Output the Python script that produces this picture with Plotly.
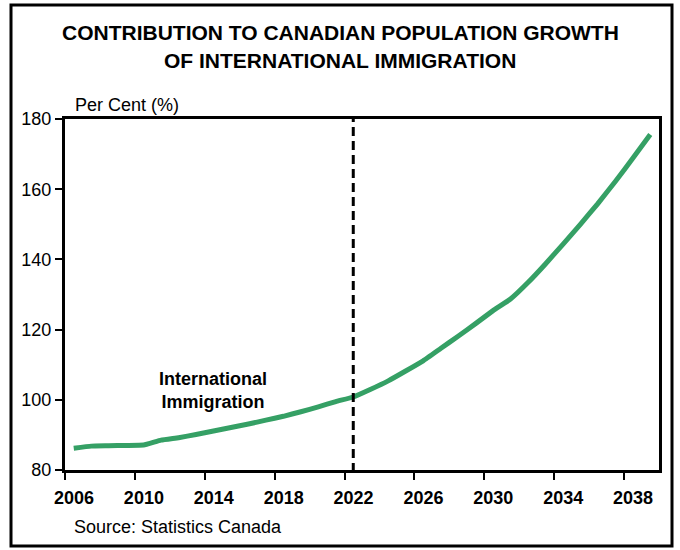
import plotly.graph_objects as go

# ---- data ----
years = [2006.5, 2007.5, 2008.5, 2009.5, 2010.5, 2011.5, 2012.5, 2013.5, 2014.5,
         2015.5, 2016.5, 2017.5, 2018.5, 2019.5, 2020.5, 2021.5, 2022.5, 2023.5,
         2024.5, 2025.5, 2026.5, 2027.5, 2028.5, 2029.5, 2030.5, 2031.5, 2032.5,
         2033.5, 2034.5, 2035.5, 2036.5, 2037.5, 2038.5, 2039.5]
immigration_share = [86.2, 86.8, 86.9, 87.0, 87.1, 88.5, 89.2, 90.1, 91.1,
                     92.1, 93.1, 94.2, 95.3, 96.6, 98.0, 99.5, 100.8, 103.0,
                     105.4, 108.2, 111.1, 114.6, 118.1, 121.7, 125.4, 128.7, 133.4,
                     138.7, 144.3, 150.0, 155.9, 162.2, 168.8, 175.6]
projection_start = 2022.5
x_ticks = [2006, 2010, 2014, 2018, 2022, 2026, 2030, 2034, 2038]
y_ticks = [80, 100, 120, 140, 160, 180]

title_lines = ["CONTRIBUTION TO CANADIAN POPULATION GROWTH", "OF INTERNATIONAL IMMIGRATION"]
series_label = "International<br>Immigration"
y_unit = "Per Cent (%)"
source = "Source: Statistics Canada"

FONT = "Liberation Sans, Arial, Helvetica, sans-serif"
GREEN = "#35a065"

W, H = 680, 550
L, R, T, B = 65, 21, 119, 80
PW, PH = W - L - R, H - T - B


def px(x):
    return (x - L) / PW


def py(y):
    return (H - B - y) / PH


fig = go.Figure()
fig.add_trace(go.Scatter(
    x=years, y=immigration_share, mode="lines",
    line=dict(color=GREEN, width=5, shape="spline", smoothing=0.3),
    hoverinfo="x+y", showlegend=False,
))

shapes = [
    dict(type="line", xref="x", yref="paper", x0=projection_start, x1=projection_start,
         y0=py(472), y1=1, line=dict(color="black", width=3, dash="9px,5px")),
    dict(type="rect", xref="paper", yref="paper", x0=px(11), x1=px(672), y0=py(546), y1=py(5),
         line=dict(color="black", width=3), fillcolor="rgba(0,0,0,0)", layer="above"),
]

annotations = [
    dict(text=f"<b>{title_lines[0]}</b>", xref="paper", yref="paper", x=px(340), y=py(32),
         xanchor="center", yanchor="middle", showarrow=False, font=dict(size=21, color="black", family=FONT)),
    dict(text=f"<b>{title_lines[1]}</b>", xref="paper", yref="paper", x=px(340), y=py(60),
         xanchor="center", yanchor="middle", showarrow=False, font=dict(size=21, color="black", family=FONT)),
    dict(text=y_unit, xref="paper", yref="paper", x=px(73), y=py(105),
         xanchor="left", yanchor="middle", showarrow=False, font=dict(size=18, color="black", family=FONT)),
    dict(text=source, xref="paper", yref="paper", x=px(72), y=py(527),
         xanchor="left", yanchor="middle", showarrow=False, font=dict(size=18, color="black", family=FONT)),
    dict(text=f"<b>{series_label}</b>", xref="x", yref="y", x=2014.45, y=102.6,
         xanchor="center", yanchor="middle", showarrow=False, align="center",
         font=dict(size=18, color="black", family=FONT)),
]

fig.update_layout(
    width=W, height=H,
    margin=dict(l=L, r=R, t=T, b=B, pad=0),
    paper_bgcolor="white", plot_bgcolor="white",
    font=dict(family=FONT, color="black"),
    shapes=shapes, annotations=annotations,
    showlegend=False,
)
fig.update_xaxes(
    range=[2006, 2040], tickvals=x_ticks, ticktext=[str(t) for t in x_ticks],
    showgrid=False, zeroline=False,
    showline=True, linecolor="black", linewidth=3, mirror=True,
    ticks="outside", ticklen=7, tickwidth=2, tickcolor="black",
    tickfont=dict(size=18, family=FONT, color="black", weight="bold"),
    ticklabelshift=9, ticklabelstandoff=2,
)
fig.update_yaxes(
    range=[80, 180], tickvals=y_ticks,
    showgrid=False, zeroline=False,
    showline=True, linecolor="black", linewidth=3, mirror=True,
    ticks="outside", ticklen=7, tickwidth=2, tickcolor="black",
    tickfont=dict(size=18, family=FONT, color="black"),
)

fig.write_html("out.html")
